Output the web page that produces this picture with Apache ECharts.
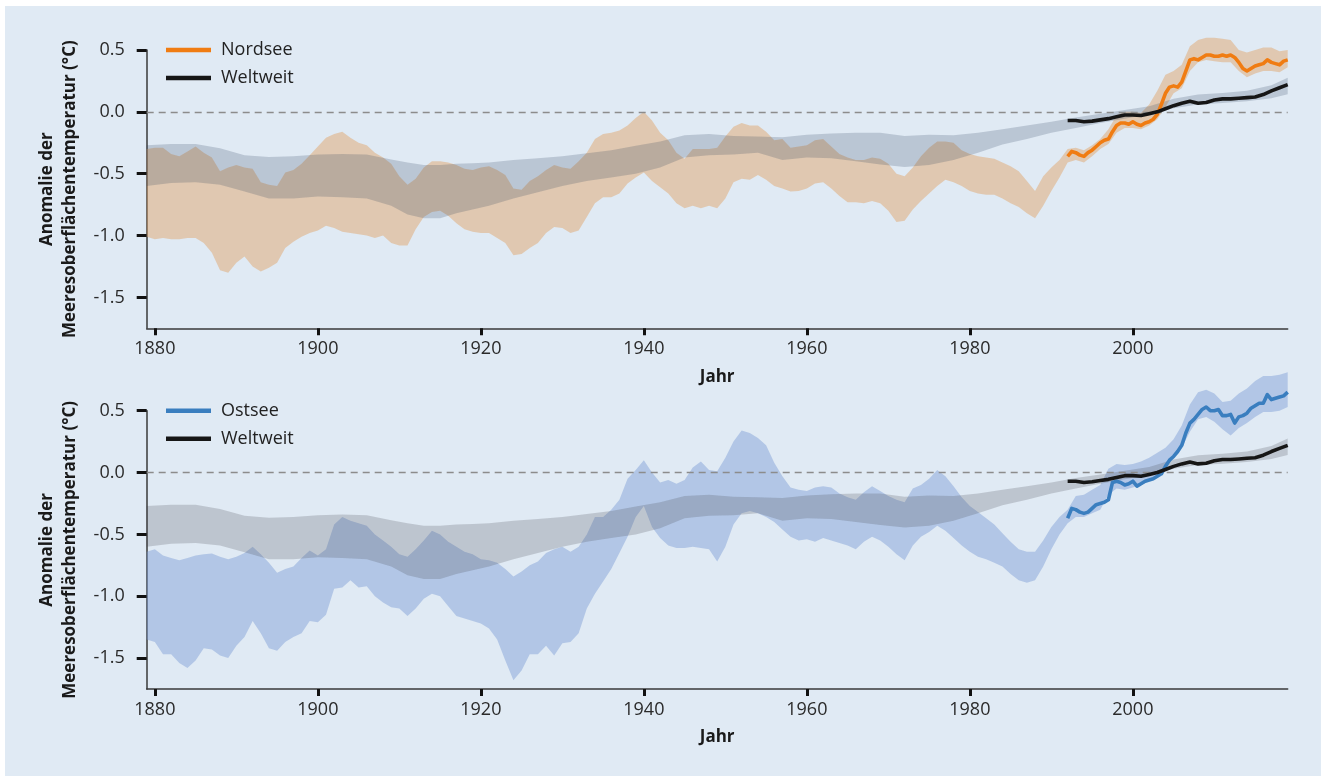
<!DOCTYPE html>
<html><head><meta charset="utf-8">
<script src="https://cdn.jsdelivr.net/npm/echarts@6/dist/echarts.min.js"></script>
<style>
html,body{margin:0;padding:0;background:#fff;width:1321px;height:776px;overflow:hidden}
#bg{position:absolute;left:5px;top:6px;right:0;bottom:0;background:#e0eaf4}
#chart{position:absolute;left:0;top:0;width:1321px;height:776px}
</style></head><body>
<div id="bg"></div><div id="chart"></div>
<script>
const bandYears = [1879,1880,1881,1882,1883,1884,1885,1886,1887,1888,1889,1890,1891,1892,1893,1894,1895,1896,1897,1898,1899,
1900,1901,1902,1903,1904,1905,1906,1907,1908,1909,1910,1911,1912,1913,1914,1915,1916,1917,1918,1919,
1920,1921,1922,1923,1924,1925,1926,1927,1928,1929,1930,1931,1932,1933,1934,1935,1936,1937,1938,1939,
1940,1941,1942,1943,1944,1945,1946,1947,1948,1949,1950,1951,1952,1953,1954,1955,1956,1957,1958,1959,
1960,1961,1962,1963,1964,1965,1966,1967,1968,1969,1970,1971,1972,1973,1974,1975,1976,1977,1978,1979,
1980,1981,1982,1983,1984,1985,1986,1987,1988,1989,1990,1991,1992,1993,1994,1995,1996,1997,1998,1999,
2000,2001,2002,2003,2004,2005,2006,2007,2008,2009,2010,2011,2012,2013,2014,2015,2016,2017,2018,2019];

const nordseeLow = [-1.01,-1.03,-1.02,-1.03,-1.03,-1.02,-1.02,-1.06,-1.14,-1.28,-1.30,-1.22,-1.17,-1.25,-1.29,-1.26,-1.22,-1.10,-1.05,-1.01,-0.98,
-0.96,-0.92,-0.94,-0.97,-0.98,-0.99,-1.00,-1.02,-1.00,-1.06,-1.08,-1.08,-0.95,-0.85,-0.81,-0.80,-0.84,-0.90,-0.95,-0.97,
-0.98,-0.98,-1.02,-1.06,-1.16,-1.15,-1.10,-1.06,-0.98,-0.93,-0.94,-0.98,-0.96,-0.85,-0.74,-0.69,-0.69,-0.66,-0.58,-0.53,
-0.49,-0.56,-0.61,-0.66,-0.74,-0.78,-0.76,-0.78,-0.76,-0.78,-0.70,-0.57,-0.54,-0.55,-0.51,-0.55,-0.60,-0.62,-0.645,-0.64,
-0.62,-0.58,-0.57,-0.62,-0.68,-0.73,-0.73,-0.74,-0.72,-0.74,-0.80,-0.89,-0.88,-0.79,-0.72,-0.66,-0.60,-0.55,-0.57,-0.60,
-0.64,-0.66,-0.67,-0.67,-0.70,-0.74,-0.77,-0.82,-0.86,-0.76,-0.64,-0.53,-0.41,-0.39,-0.41,-0.36,-0.30,-0.26,-0.17,-0.13,
-0.13,-0.14,-0.11,-0.06,0.04,0.15,0.19,0.33,0.40,0.42,0.41,0.40,0.40,0.33,0.28,0.31,0.33,0.33,0.32,0.36];

const nordseeHigh = [-0.30,-0.29,-0.29,-0.34,-0.36,-0.32,-0.28,-0.33,-0.37,-0.48,-0.45,-0.43,-0.45,-0.46,-0.57,-0.59,-0.60,-0.49,-0.47,-0.42,-0.35,
-0.28,-0.21,-0.18,-0.16,-0.21,-0.25,-0.27,-0.33,-0.37,-0.42,-0.52,-0.59,-0.54,-0.45,-0.40,-0.40,-0.41,-0.43,-0.46,-0.47,
-0.45,-0.44,-0.47,-0.51,-0.62,-0.63,-0.56,-0.52,-0.47,-0.43,-0.45,-0.46,-0.40,-0.33,-0.22,-0.18,-0.17,-0.15,-0.11,-0.05,
0.00,-0.07,-0.17,-0.23,-0.33,-0.38,-0.30,-0.30,-0.30,-0.29,-0.20,-0.12,-0.09,-0.11,-0.11,-0.16,-0.23,-0.22,-0.29,-0.28,
-0.27,-0.23,-0.22,-0.28,-0.34,-0.37,-0.39,-0.39,-0.37,-0.38,-0.42,-0.50,-0.52,-0.45,-0.36,-0.29,-0.24,-0.24,-0.25,-0.31,
-0.34,-0.36,-0.37,-0.38,-0.41,-0.44,-0.48,-0.56,-0.64,-0.52,-0.45,-0.39,-0.30,-0.29,-0.31,-0.27,-0.22,-0.14,-0.03,0.00,
0.00,-0.01,0.06,0.17,0.30,0.33,0.38,0.53,0.58,0.60,0.60,0.59,0.58,0.50,0.48,0.50,0.52,0.52,0.49,0.50];

const ostseeLow = [-1.35,-1.37,-1.47,-1.47,-1.54,-1.58,-1.52,-1.42,-1.43,-1.48,-1.50,-1.40,-1.33,-1.20,-1.30,-1.42,-1.44,-1.37,-1.33,-1.30,-1.20,
-1.21,-1.15,-0.94,-0.93,-0.87,-0.93,-0.92,-1.00,-1.05,-1.09,-1.10,-1.16,-1.10,-1.02,-0.98,-1.00,-1.08,-1.16,-1.18,-1.20,
-1.22,-1.26,-1.35,-1.52,-1.68,-1.60,-1.47,-1.47,-1.40,-1.48,-1.38,-1.37,-1.30,-1.10,-0.98,-0.88,-0.78,-0.65,-0.52,-0.36,
-0.27,-0.44,-0.53,-0.59,-0.61,-0.61,-0.60,-0.61,-0.62,-0.72,-0.60,-0.42,-0.33,-0.31,-0.33,-0.36,-0.40,-0.46,-0.52,-0.55,
-0.54,-0.56,-0.53,-0.55,-0.57,-0.59,-0.62,-0.56,-0.52,-0.55,-0.60,-0.66,-0.71,-0.59,-0.52,-0.48,-0.43,-0.47,-0.53,-0.59,
-0.64,-0.68,-0.70,-0.73,-0.76,-0.82,-0.87,-0.89,-0.87,-0.76,-0.62,-0.50,-0.41,-0.36,-0.36,-0.33,-0.30,-0.18,-0.13,-0.14,
-0.12,-0.10,-0.07,-0.03,0.03,0.13,0.20,0.33,0.43,0.45,0.41,0.35,0.30,0.36,0.40,0.45,0.49,0.49,0.50,0.53];

const ostseeHigh = [-0.64,-0.62,-0.67,-0.69,-0.71,-0.69,-0.67,-0.66,-0.655,-0.68,-0.70,-0.68,-0.65,-0.60,-0.66,-0.73,-0.81,-0.78,-0.76,-0.69,-0.63,
-0.67,-0.62,-0.42,-0.36,-0.39,-0.41,-0.43,-0.50,-0.55,-0.60,-0.66,-0.68,-0.62,-0.55,-0.47,-0.50,-0.56,-0.60,-0.64,-0.66,
-0.70,-0.71,-0.73,-0.78,-0.84,-0.80,-0.75,-0.72,-0.65,-0.62,-0.60,-0.64,-0.60,-0.50,-0.36,-0.36,-0.30,-0.22,-0.05,0.02,
0.10,0.00,-0.08,-0.06,-0.09,-0.06,0.04,0.09,0.02,0.01,0.12,0.25,0.34,0.32,0.28,0.22,0.08,-0.03,-0.12,-0.14,
-0.15,-0.12,-0.11,-0.12,-0.17,-0.20,-0.22,-0.16,-0.11,-0.15,-0.19,-0.22,-0.24,-0.13,-0.10,-0.05,0.02,-0.03,-0.11,-0.20,
-0.27,-0.32,-0.37,-0.42,-0.49,-0.56,-0.62,-0.64,-0.64,-0.55,-0.44,-0.36,-0.30,-0.19,-0.18,-0.14,-0.10,0.03,0.07,0.06,
0.07,0.09,0.12,0.16,0.20,0.27,0.38,0.55,0.65,0.67,0.64,0.57,0.58,0.64,0.68,0.74,0.78,0.78,0.79,0.81];

const globalYears = [1879,1882,1885,1888,1891,1894,1897,1900,1903,1906,1909,1911,1913,1915,1917,1919,1921,1924,1927,1930,
1933,1936,1939,1942,1945,1948,1951,1954,1957,1960,1963,1966,1969,1972,1975,1978,1981,1984,1987,1990,
1993,1996,1999,2002,2005,2008,2011,2014,2017,2019];
const globalLow = [-0.60,-0.575,-0.57,-0.59,-0.645,-0.70,-0.70,-0.685,-0.69,-0.70,-0.76,-0.83,-0.86,-0.86,-0.82,-0.79,-0.76,-0.70,-0.65,-0.60,
-0.56,-0.53,-0.50,-0.45,-0.37,-0.35,-0.345,-0.33,-0.39,-0.37,-0.375,-0.40,-0.425,-0.445,-0.43,-0.39,-0.33,-0.265,-0.22,-0.17,
-0.13,-0.09,-0.055,-0.02,0.03,0.06,0.072,0.085,0.11,0.142];
const globalHigh = [-0.27,-0.26,-0.26,-0.295,-0.35,-0.365,-0.36,-0.345,-0.34,-0.345,-0.385,-0.41,-0.43,-0.43,-0.42,-0.415,-0.41,-0.39,-0.375,-0.36,
-0.335,-0.31,-0.275,-0.24,-0.19,-0.18,-0.195,-0.20,-0.205,-0.185,-0.175,-0.17,-0.17,-0.195,-0.185,-0.19,-0.17,-0.14,-0.11,-0.08,
-0.045,-0.015,0.015,0.045,0.105,0.14,0.152,0.17,0.215,0.275];

const globalLineYears = [1992,1993,1994,1995,1996,1997,1998,1999,2000,2001,2002,2003,2004,2005,2006,2007,2008,2009,2010,2011,2012,2013,2014,2015,2016,2017,2018,2019];
const globalLine = [-0.07,-0.07,-0.08,-0.075,-0.065,-0.055,-0.04,-0.025,-0.025,-0.03,-0.015,0.0,0.025,0.05,0.07,0.085,0.07,0.075,0.095,0.105,0.105,0.11,0.115,0.12,0.14,0.17,0.195,0.22];

const lineYears = [1992,1992.5,1993,1993.5,1994,1994.5,1995,1995.5,1996,1996.5,1997,1997.5,1998,1998.5,1999,1999.5,
2000,2000.5,2001,2001.5,2002,2002.5,2003,2003.5,2004,2004.5,2005,2005.5,2006,2006.5,2007,2007.5,2008,2008.5,2009,2009.5,
2010,2010.5,2011,2011.5,2012,2012.5,2013,2013.5,2014,2014.5,2015,2015.5,2016,2016.5,2017,2017.5,2018,2018.5,2019];
const nordseeLine = [-0.36,-0.32,-0.33,-0.35,-0.36,-0.33,-0.31,-0.28,-0.25,-0.23,-0.22,-0.16,-0.11,-0.09,-0.09,-0.10,
-0.08,-0.10,-0.11,-0.09,-0.08,-0.06,-0.02,0.06,0.15,0.20,0.21,0.20,0.24,0.33,0.42,0.43,0.42,0.44,0.46,0.46,
0.45,0.45,0.46,0.45,0.46,0.44,0.40,0.35,0.33,0.35,0.37,0.38,0.39,0.42,0.40,0.39,0.38,0.41,0.42];
const ostseeLine = [-0.37,-0.29,-0.30,-0.32,-0.33,-0.32,-0.29,-0.26,-0.25,-0.24,-0.22,-0.08,-0.07,-0.08,-0.10,-0.09,
-0.07,-0.11,-0.09,-0.07,-0.06,-0.05,-0.03,-0.01,0.05,0.10,0.13,0.17,0.22,0.32,0.40,0.43,0.47,0.51,0.53,0.50,
0.50,0.51,0.46,0.46,0.47,0.40,0.45,0.46,0.48,0.52,0.54,0.56,0.56,0.63,0.59,0.60,0.61,0.62,0.65];

const xTicks = [1880,1900,1920,1940,1960,1980,2000];
const yTicks = [-1.5,-1.0,-0.5,0.0,0.5];

const FONT = 'Open Sans';
const zip = (xs, ys) => xs.map((x, i) => [x, ys[i]]);

function bandSeries(name, years, lo, hi, color, idx, z) {
  return {
    type: 'custom', name: name, xAxisIndex: idx, yAxisIndex: idx, silent: true, clip: false, z: z,
    data: years.map((y, i) => [y, lo[i], hi[i]]),
    encode: { x: 0, y: [1, 2] },
    renderItem: function (params, api) {
      if (params.dataIndexInside !== 0) return null;
      const n = params.dataInsideLength;
      const pts = [];
      for (let i = 0; i < n; i++) pts.push(api.coord([api.value(0, i), api.value(1, i)]));
      for (let i = n - 1; i >= 0; i--) pts.push(api.coord([api.value(0, i), api.value(2, i)]));
      return { type: 'polygon', shape: { points: pts }, style: { fill: color } };
    }
  };
}
function lineSeries(name, years, vals, color, idx, z, extra) {
  return Object.assign({
    type: 'line', name: name, xAxisIndex: idx, yAxisIndex: idx, data: zip(years, vals),
    showSymbol: false, symbol: 'none', clip: false, silent: true, z: z,
    itemStyle: { color: color }, lineStyle: { color: color, width: 3.6, join: 'round' }
  }, extra || {});
}
const zeroLine = {
  silent: true, symbol: 'none', label: { show: false },
  lineStyle: { type: [7, 5], color: '#8c8c8c', width: 1.3 },
  data: [{ yAxis: 0 }]
};

function xAxis(idx) {
  return {
    type: 'value', gridIndex: idx, min: 1879, max: 2019,
    name: 'Jahr', nameLocation: 'middle', nameGap: 40,
    nameTextStyle: { fontFamily: FONT, fontWeight: 'bold', fontSize: 17, color: '#1a1a1a' },
    axisLine: { onZero: false, lineStyle: { color: '#3a3a3a', width: 1.5 } },
    axisTick: { customValues: xTicks, length: 7, lineStyle: { color: '#111', width: 3 } },
    axisLabel: { customValues: xTicks, margin: 12, fontFamily: FONT, fontSize: 18, color: '#2a2a2a',
      formatter: v => String(Math.round(v)) },
    splitLine: { show: false }
  };
}
function yAxis(idx) {
  return {
    type: 'value', gridIndex: idx, min: -1.75, max: 0.5,
    name: 'Anomalie der\nMeeresoberflächentemperatur (°C)', nameLocation: 'middle', nameGap: 65, nameRotate: 90,
    nameTextStyle: { fontFamily: FONT, fontWeight: 'bold', fontSize: 17, lineHeight: 23, color: '#1a1a1a', align: 'center' },
    axisLine: { show: true, onZero: false, lineStyle: { color: '#3a3a3a', width: 1.5 } },
    axisTick: { customValues: yTicks, length: 10, lineStyle: { color: '#111', width: 3 } },
    axisLabel: { customValues: yTicks, margin: 22, fontFamily: FONT, fontSize: 18, color: '#2a2a2a',
      formatter: v => v.toFixed(1) },
    splitLine: { show: false }
  };
}
function legend(top, names) {
  return {
    orient: 'vertical', left: 166, top: top, data: names, icon: 'rect',
    itemWidth: 45, itemHeight: 4.5, itemGap: 10, padding: 0, selectedMode: false,
    textStyle: { fontFamily: FONT, fontSize: 18, lineHeight: 18, color: '#222', padding: [0, 0, 0, 5] }
  };
}

const chart = echarts.init(document.getElementById('chart'), null, { renderer: 'canvas' });
chart.setOption({
  animation: false,
  backgroundColor: 'transparent',
  grid: [
    { left: 146.7, top: 50, width: 1141, height: 278.3 },
    { left: 146.7, top: 410.7, width: 1141, height: 278.3 }
  ],
  xAxis: [xAxis(0), xAxis(1)],
  yAxis: [yAxis(0), yAxis(1)],
  legend: [legend(41, ['Nordsee', 'Weltweit']), legend(401.7, ['Ostsee', 'Weltweit'])],
  series: [
    bandSeries('Nordsee Bereich', bandYears, nordseeLow, nordseeHigh, 'rgba(225,160,95,0.45)', 0, 1),
    bandSeries('Weltweit Bereich', globalYears, globalLow, globalHigh, 'rgba(34,54,84,0.2)', 0, 2),
    lineSeries('Nordsee', lineYears, nordseeLine, '#f07c12', 0, 4),
    lineSeries('Weltweit', globalLineYears, globalLine, '#161616', 0, 5, { markLine: zeroLine }),
    bandSeries('Ostsee Bereich', bandYears, ostseeLow, ostseeHigh, 'rgba(122,156,213,0.45)', 1, 1),
    bandSeries('Weltweit Bereich ', globalYears, globalLow, globalHigh, 'rgba(60,60,70,0.21)', 1, 2),
    lineSeries('Ostsee', lineYears, ostseeLine, '#3a7ebf', 1, 4),
    lineSeries('Weltweit', globalLineYears, globalLine, '#161616', 1, 5, { markLine: zeroLine })
  ]
});
</script></body></html>
